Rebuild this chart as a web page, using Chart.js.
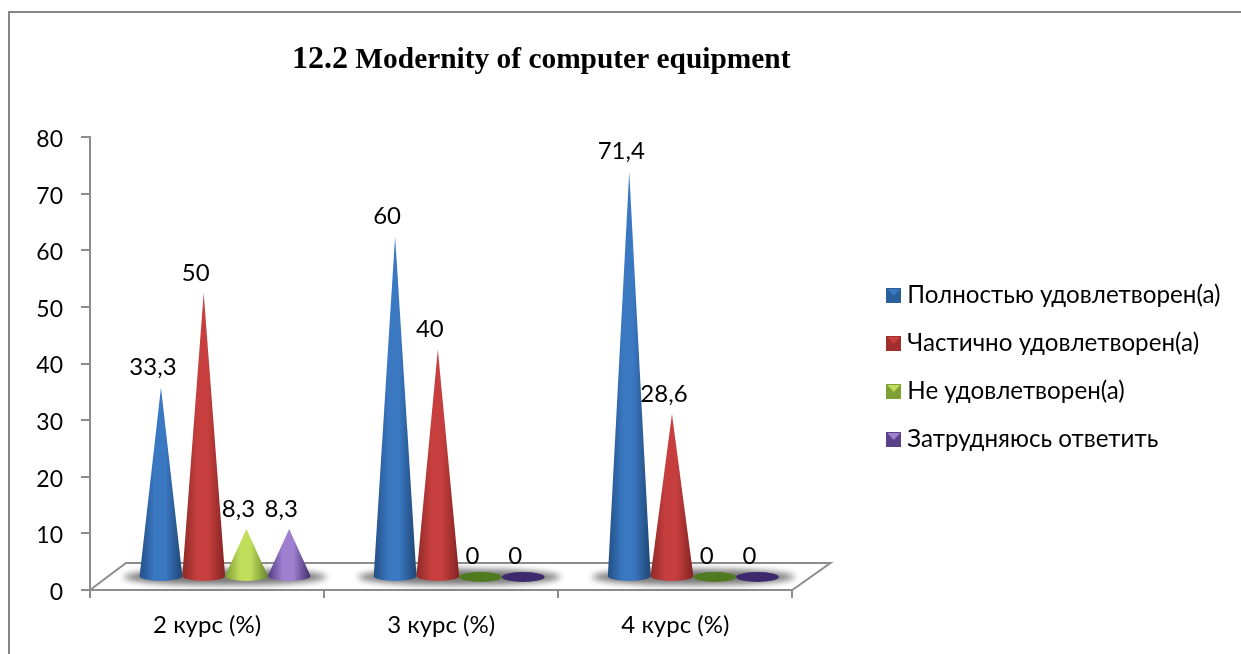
<!DOCTYPE html>
<html>
<head>
<meta charset="utf-8">
<style>
  html, body { margin: 0; padding: 0; background: #fff; }
  #wrap { width: 1241px; height: 654px; position: relative; }
</style>
<script src="https://cdn.jsdelivr.net/npm/chart.js@4/dist/chart.umd.min.js"></script>
</head>
<body>
<div id="wrap"><canvas id="chart" width="1241" height="654"></canvas></div>
<script>
const categories = ['2 курс (%)', '3 курс (%)', '4 курс (%)'];
const seriesNames = ['Полностью удовлетворен(а)', 'Частично удовлетворен(а)', 'Не удовлетворен(а)', 'Затрудняюсь ответить'];
const fullySatisfied = [33.3, 60, 71.4];
const partlySatisfied = [50, 40, 28.6];
const notSatisfied = [8.3, 0, 0];
const hardToSay = [8.3, 0, 0];
const titleNumber = '12.2';
const titleText = ' Modernity of computer equipment';

const font = 'Lato, "Open Sans", sans-serif';
const axisGrey = '#8c8c8c';

// left edge, centre, right edge of each cone, the flat disc for zero values, legend box
const palette = [
    { edge: '#234f85', mid: '#3a78c2', dark: '#1f4674', flat: '#2f6cb0', box: '#2a5f9c' },
    { edge: '#8d2a28', mid: '#c63f3e', dark: '#832321', flat: '#b03432', box: '#a02f2d' },
    { edge: '#7d9c32', mid: '#c0dd5c', dark: '#67852a', flat: '#4f7a1f', box: '#7fa035' },
    { edge: '#523c80', mid: '#9f80d0', dark: '#3f2c68', flat: '#3d2a6c', box: '#5a4288' }
];

function legendSwatch(c) {
    const s = document.createElement('canvas');
    s.width = 15;
    s.height = 15;
    const g = s.getContext('2d');
    g.fillStyle = c.box;
    g.fillRect(0, 0, 15, 15);
    g.fillStyle = c.mid;
    g.beginPath();
    g.moveTo(1, 1);
    g.lineTo(14, 1);
    g.lineTo(7.5, 8);
    g.closePath();
    g.fill();
    return s;
}

// floor, shadows, frame and title
const backdrop = {
    id: 'backdrop',
    afterLayout(chart) {
        chart.legend.left += 76;
        chart.legend.right += 76;
        chart.legend.top -= 28;
        chart.legend.bottom -= 28;
    },
    beforeDatasetsDraw(chart) {
        const { ctx, chartArea: a } = chart;
        ctx.save();
        ctx.strokeStyle = '#868686';
        ctx.lineWidth = 2;
        ctx.beginPath();
        ctx.moveTo(9, 654);
        ctx.lineTo(9, 12);
        ctx.lineTo(1241, 12);
        ctx.stroke();

        ctx.strokeStyle = axisGrey;
        ctx.lineWidth = 2;
        ctx.beginPath();
        ctx.moveTo(a.left, a.bottom);
        ctx.lineTo(a.left + 36, a.bottom - 27);
        ctx.lineTo(a.right + 38, a.bottom - 27);
        ctx.lineTo(a.right, a.bottom);
        ctx.stroke();

        // soft shadow under each group of cones
        ctx.filter = 'blur(3px)';
        ctx.fillStyle = 'rgba(85,85,85,0.8)';
        categories.forEach((c, i) => {
            const first = chart.getDatasetMeta(0).data[i];
            const last = chart.getDatasetMeta(3).data[i];
            ctx.beginPath();
            ctx.ellipse((first.x + last.x) / 2 + 18, a.bottom - 13, (last.x - first.x) / 2 + first.width / 2 + 16, 8, 0, 0, Math.PI * 2);
            ctx.fill();
        });
        ctx.restore();

        ctx.save();
        ctx.fillStyle = '#000';
        ctx.textBaseline = 'alphabetic';
        ctx.font = 'bold 32px "Liberation Serif", serif';
        const w1 = ctx.measureText(titleNumber).width;
        ctx.fillText(titleNumber, 292, 68);
        ctx.font = 'bold 29.4px "Liberation Serif", serif';
        ctx.fillText(titleText, 292 + w1, 68);
        ctx.restore();
    }
};

// cones are drawn from the bar elements, shifted into the 3D floor
const cones = {
    id: 'cones',
    afterDatasetsDraw(chart) {
        const { ctx } = chart;
        const dx = 18, dyTip = 14, dyBase = 13, ry = 5;
        chart.data.datasets.forEach((ds, d) => {
            const c = palette[d];
            chart.getDatasetMeta(d).data.forEach((el, i) => {
                const cx = el.x + dx, r = el.width / 2, base = el.base - dyBase;
                ctx.save();
                if (ds.data[i] === 0) {
                    ctx.fillStyle = c.flat;
                    ctx.beginPath();
                    ctx.ellipse(cx, base, r, ry, 0, 0, Math.PI * 2);
                    ctx.fill();
                } else {
                    const g = ctx.createLinearGradient(cx - r, 0, cx + r, 0);
                    g.addColorStop(0, c.edge);
                    g.addColorStop(0.35, c.mid);
                    g.addColorStop(0.6, c.mid);
                    g.addColorStop(1, c.dark);
                    ctx.fillStyle = g;
                    ctx.beginPath();
                    ctx.moveTo(cx, el.y - dyTip);
                    ctx.lineTo(cx + r, base);
                    ctx.ellipse(cx, base, r, ry, 0, 0, Math.PI);
                    ctx.closePath();
                    ctx.fill();
                }
                ctx.restore();
            });
        });
        // value labels go on top of every cone
        ctx.save();
        ctx.fillStyle = '#000';
        ctx.font = '24px ' + font;
        ctx.textAlign = 'center';
        ctx.textBaseline = 'middle';
        chart.data.datasets.forEach((ds, d) => {
            chart.getDatasetMeta(d).data.forEach((el, i) => {
                ctx.fillText(String(ds.data[i]).replace('.', ','), el.x + 10, el.y - 12 - 22);
            });
        });
        ctx.restore();
    }
};

const seriesValues = [fullySatisfied, partlySatisfied, notSatisfied, hardToSay];

new Chart(document.getElementById('chart'), {
    type: 'bar',
    data: {
        labels: categories,
        datasets: seriesValues.map((values, i) => ({
            label: seriesNames[i],
            data: values,
            backgroundColor: 'transparent',
            borderWidth: 0,
            barPercentage: 1,
            categoryPercentage: 0.73
        }))
    },
    options: {
        responsive: false,
        animation: false,
        events: [],
        layout: { padding: { left: 8, top: 137, right: 86.5, bottom: 0 } },
        scales: {
            x: {
                grid: { drawOnChartArea: false, color: axisGrey, lineWidth: 2, tickLength: 8 },
                border: { color: axisGrey, width: 2 },
                ticks: { color: '#000', font: { family: font, size: 24 }, padding: 13, maxRotation: 0 },
                afterFit(scale) { scale.height = 64; }
            },
            y: {
                min: 0,
                max: 80,
                grid: { drawOnChartArea: false, color: axisGrey, lineWidth: 2, tickLength: 9 },
                border: { color: axisGrey, width: 2 },
                ticks: { stepSize: 10, color: '#000', font: { family: font, size: 23 }, padding: 18, labelOffset: 2.5 },
                afterFit(scale) { scale.width = 82; }
            }
        },
        plugins: {
            title: { display: false },
            tooltip: { enabled: false },
            legend: {
                position: 'right',
                maxWidth: 400,
                labels: {
                    usePointStyle: true,
                    pointStyleWidth: 3,
                    padding: 23.8,
                    color: '#000',
                    font: { family: font, size: 24.2 },
                    generateLabels: () => seriesNames.map((name, i) => ({
                        text: name,
                        fontColor: '#000',
                        pointStyle: legendSwatch(palette[i]),
                        datasetIndex: i,
                        hidden: false
                    }))
                }
            }
        }
    },
    plugins: [backdrop, cones]
});
</script>
</body>
</html>
